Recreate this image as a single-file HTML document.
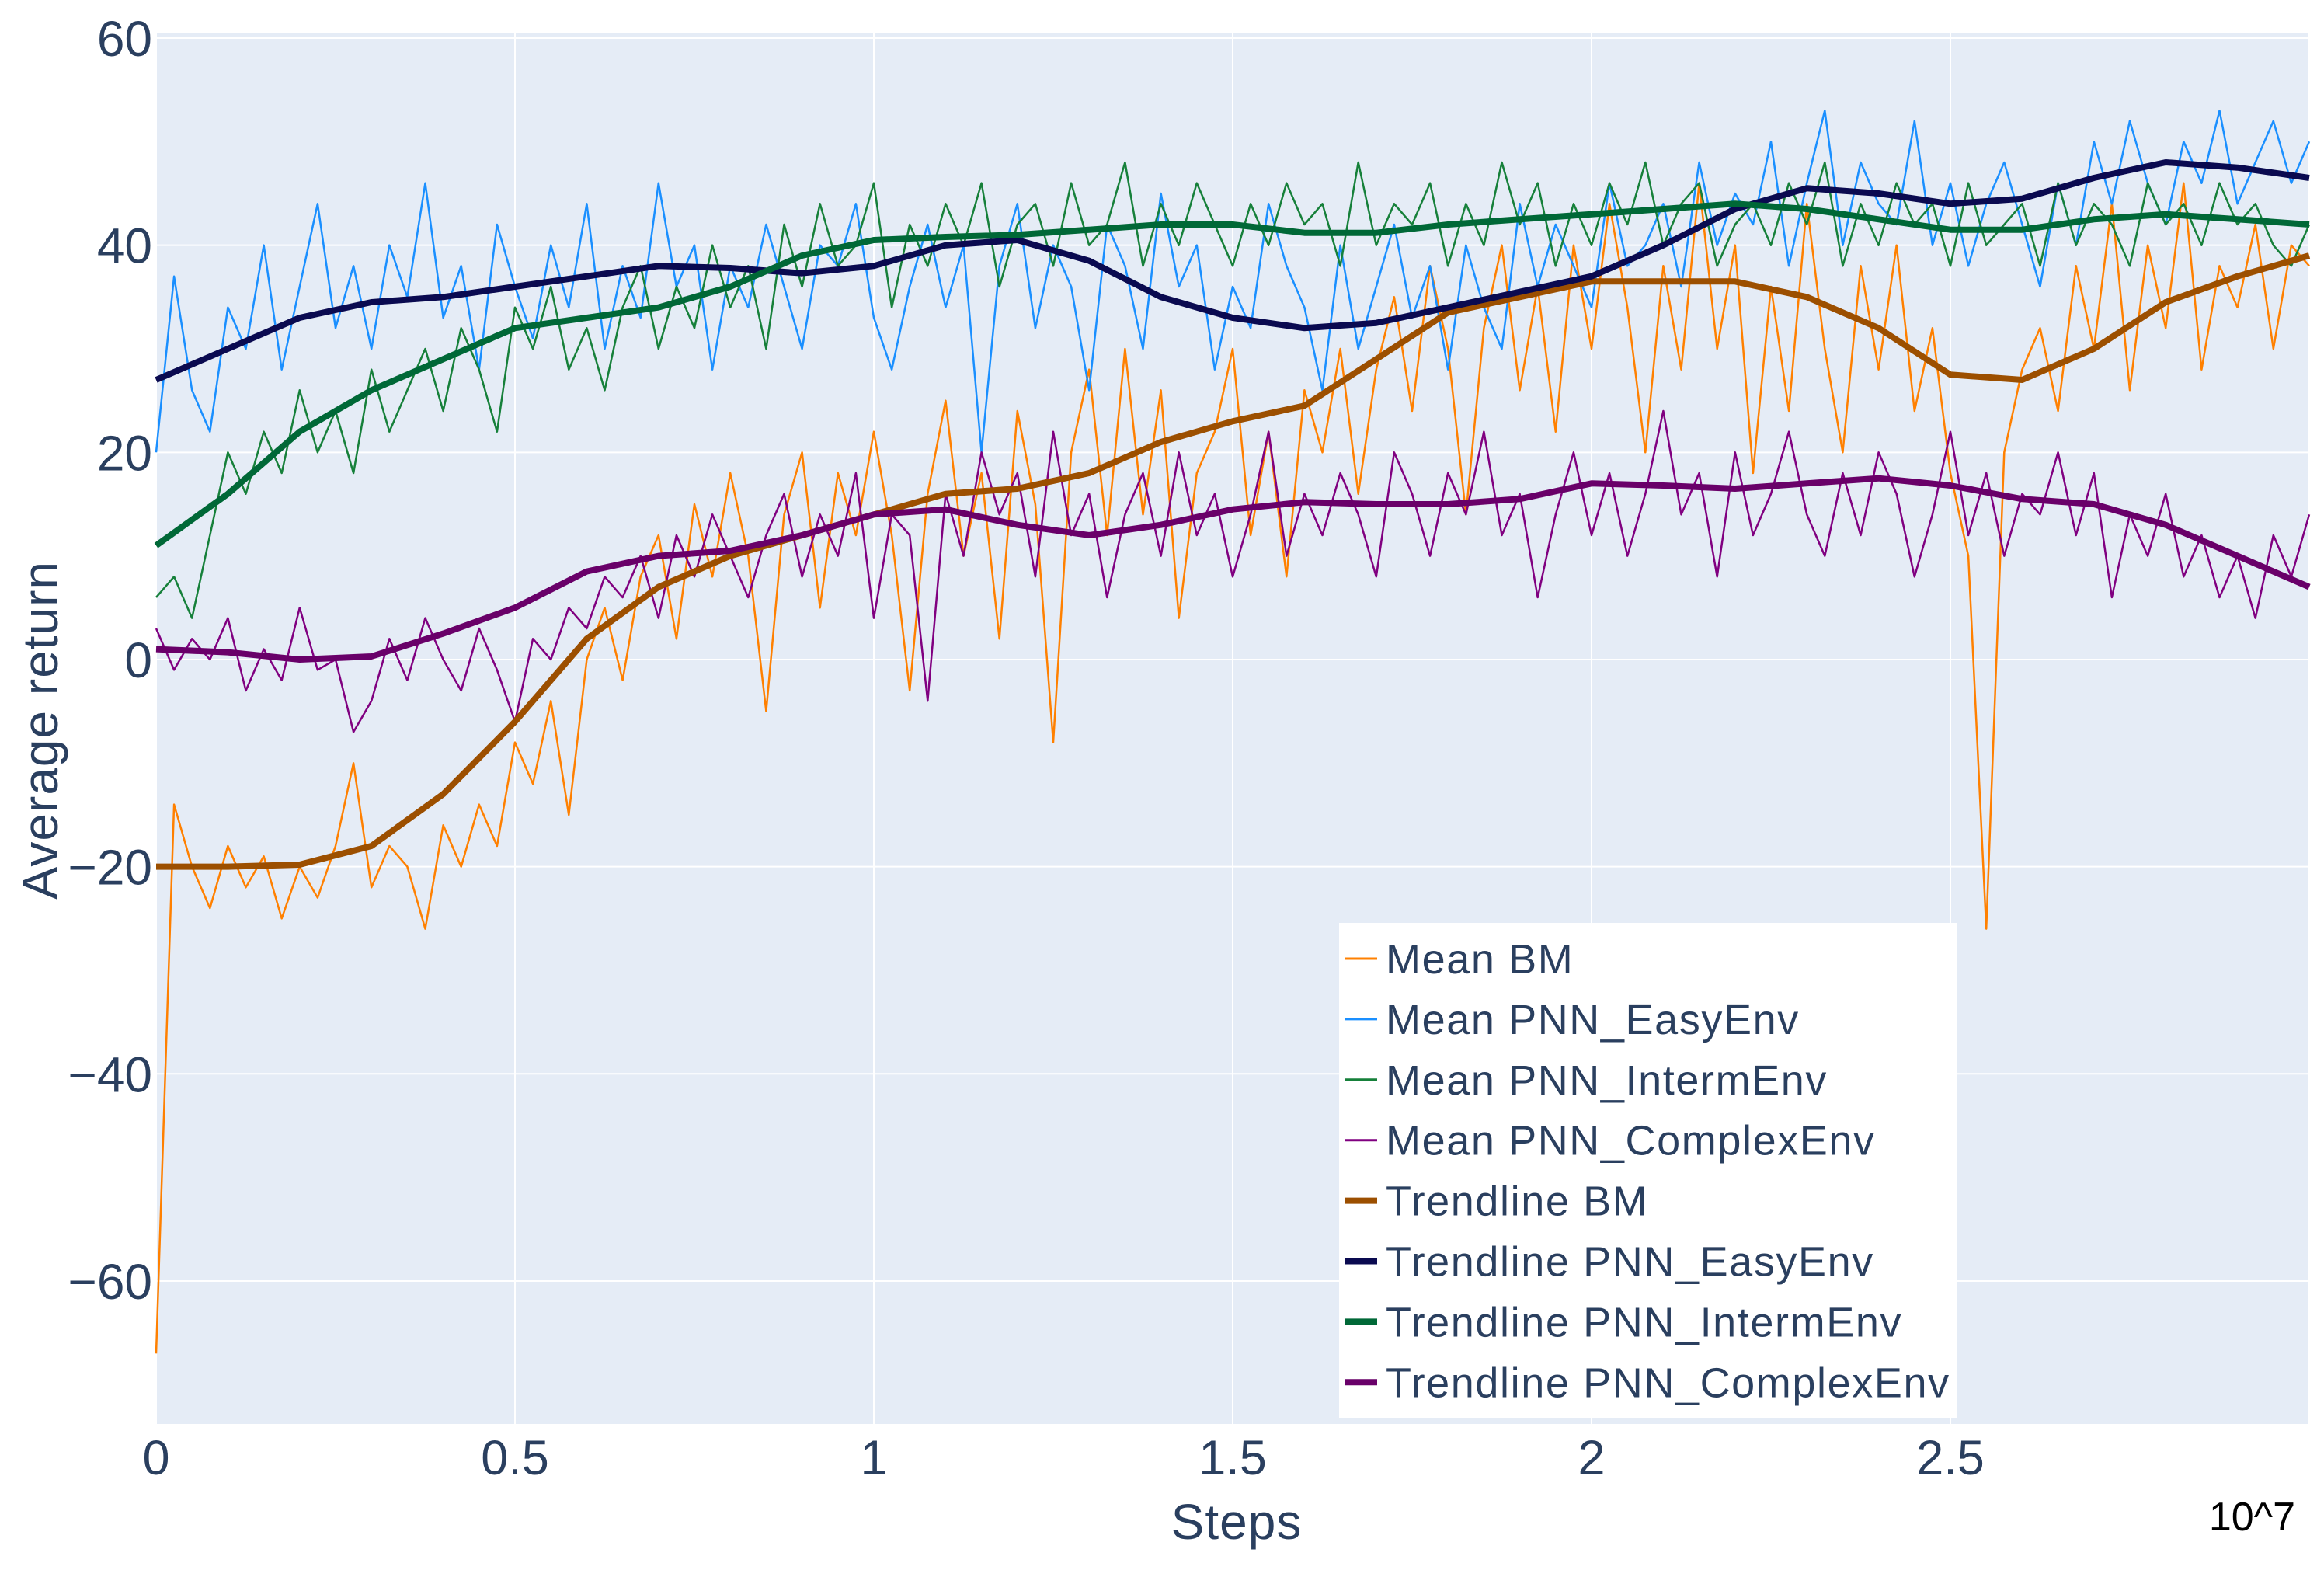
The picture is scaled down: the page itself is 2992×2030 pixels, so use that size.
<!DOCTYPE html>
<html><head><meta charset="utf-8">
<style>
html,body{margin:0;padding:0;background:#fff;}
svg{display:block;font-family:"Liberation Sans",sans-serif;}
</style></head>
<body>
<svg id="chart" width="2992" height="2030" viewBox="0 0 2992 2030" xmlns="http://www.w3.org/2000/svg">
  <rect x="201" y="42" width="2770" height="1791" fill="#e5ecf6"/>
  <g id="grid"></g>
  <g id="series"></g>
  <g id="ticks"></g>
  <text x="1592" y="1981" font-size="64" fill="#2a3f5f" text-anchor="middle" letter-spacing="1">Steps</text>
  <text x="2955" y="1970" font-size="52" fill="#000" text-anchor="end">10^7</text>
  <text transform="translate(74,940) rotate(-90)" font-size="64" fill="#2a3f5f" text-anchor="middle" letter-spacing="1">Average return</text>
  <g id="legend">
    <rect x="1724" y="1188" width="795" height="637" fill="#fff"/>
  </g>
</svg>
<script>
const meanBM = [-67,-14,-20,-24,-18,-22,-19,-25,-20,-23,
 -18,-10,-22,-18,-20,-26,-16,-20,-14,-18,
 -8,-12,-4,-15,0,5,-2,8,12,2,
 15,8,18,10,-5,14,20,5,18,12,
 22,12,-3,16,25,10,18,2,24,15,
 -8,20,28,12,30,14,26,4,18,22,
 30,12,22,8,26,20,30,16,28,35,
 24,38,30,14,32,40,26,36,22,40,
 30,44,34,20,38,28,46,30,40,18,
 36,24,44,30,20,38,28,40,24,32,
 18,10,-26,20,28,32,24,38,30,44,
 26,40,32,46,28,38,34,42,30,40,
 38];
const meanEasy = [20,37,26,22,34,30,40,28,36,44,32,38,30,40,35,46,33,38,28,42,36,31,40,34,44,30,38,33,46,36,40,28,38,34,42,36,30,40,38,44,33,28,36,42,34,40,20,38,44,32,40,36,26,42,38,30,45,36,40,28,36,32,44,38,34,26,40,30,36,42,33,38,28,40,34,30,44,36,42,38,34,46,38,40,44,36,48,40,45,42,50,38,46,53,40,48,44,42,52,40,46,38,44,48,42,36,46,40,50,44,52,46,42,50,46,53,44,48,52,46,50];
const meanInterm = [6,8,4,12,20,16,22,18,26,20,24,18,28,22,26,30,24,32,28,22,34,30,36,28,32,26,34,38,30,36,32,40,34,38,30,42,36,44,38,40,46,34,42,38,44,40,46,36,42,44,38,46,40,42,48,38,44,40,46,42,38,44,40,46,42,44,38,48,40,44,42,46,38,44,40,48,42,46,38,44,40,46,42,48,40,44,46,38,42,44,40,46,42,48,38,44,40,46,42,44,38,46,40,42,44,38,46,40,44,42,38,46,42,44,40,46,42,44,40,38,42];
const meanComplex = [3,-1,2,0,4,-3,1,-2,5,-1,0,-7,-4,2,-2,4,0,-3,3,-1,-6,2,0,5,3,8,6,10,4,12,8,14,10,6,12,16,8,14,10,18,4,14,12,-4,16,10,20,14,18,8,22,12,16,6,14,18,10,20,12,16,8,14,22,10,16,12,18,14,8,20,16,10,18,14,22,12,16,6,14,20,12,18,10,16,24,14,18,8,20,12,16,22,14,10,18,12,20,16,8,14,22,12,18,10,16,14,20,12,18,6,14,10,16,8,12,6,10,4,12,8,14];
const stepsStart = 0, stepsEnd = 3.0;
const trendX = [0,0.1,0.2,0.3,0.4,0.5,0.6,0.7,0.8,0.9,1.0,1.1,1.2,1.3,1.4,1.5,1.6,1.7,1.8,1.9,2.0,2.1,2.2,2.3,2.4,2.5,2.6,2.7,2.8,2.9,3.0];
const trendBM = [-20,-20,-19.8,-18,-13,-6,2,7,10,12,14,16,16.5,18,21,23,24.5,29,33.5,35,36.5,36.5,36.5,35,32,27.5,27,30,34.5,37,39];
const trendEasy = [27,30,33,34.5,35,36,37,38,37.8,37.3,38,40,40.5,38.5,35,33,32,32.5,34,35.5,37,40,43.5,45.5,45,44,44.5,46.5,48,47.5,46.5];
const trendInterm = [11,16,22,26,29,32,33,34,36,39,40.5,40.8,41,41.5,42,42,41.2,41.2,42,42.5,43,43.5,44,43.5,42.5,41.5,41.5,42.5,43,42.5,42];
const trendComplex = [1,0.7,0,0.3,2.5,5,8.5,10,10.5,12,14,14.5,13,12,13,14.5,15.2,15,15,15.5,17,16.8,16.5,17,17.5,16.8,15.5,15,13,10,7];
const xTicks = [0,0.5,1,1.5,2,2.5];
const xTickLabels = ["0","0.5","1","1.5","2","2.5"];
const yTicks = [-60,-40,-20,0,20,40,60];
const yTickLabels = ["\u221260","\u221240","\u221220","0","20","40","60"];
const legendLabels = ["Mean BM","Mean PNN_EasyEnv","Mean PNN_IntermEnv","Mean PNN_ComplexEnv","Trendline BM","Trendline PNN_EasyEnv","Trendline PNN_IntermEnv","Trendline PNN_ComplexEnv"];

const NS = "http://www.w3.org/2000/svg";
const X0 = 201, XPX = 924, Y60 = 49, YPX = 13.333;
function xs(v){ return X0 + v*XPX; }
function ys(v){ return Y60 + (60 - v)*YPX; }
function mk(tag, attrs, parent){
  const e = document.createElementNS(NS, tag);
  for (const k in attrs) e.setAttribute(k, attrs[k]);
  parent.appendChild(e);
  return e;
}
function evenX(arr){ return arr.map((_,i)=>stepsStart + (stepsEnd-stepsStart)*i/(arr.length-1)); }
const grid = document.getElementById('grid');
const ticks = document.getElementById('ticks');
xTicks.forEach((t,i)=>{
  const l = mk('line',{x1:xs(t),x2:xs(t),y1:42,y2:1833,stroke:'#fff','stroke-width':2},grid);
  
  
  const tx = mk('text',{x:xs(t),y:1898,'font-size':63,fill:'#2a3f5f','text-anchor':'middle'},ticks);
  tx.textContent = xTickLabels[i];
  
  
});
yTicks.forEach((t,i)=>{
  const l = mk('line',{x1:201,x2:2971,y1:ys(t),y2:ys(t),stroke:'#fff','stroke-width':2},grid);
  
  
  const tx = mk('text',{x:196,y:ys(t)+23,'font-size':64,fill:'#2a3f5f','text-anchor':'end'},ticks);
  tx.textContent = yTickLabels[i];
  
  
});
const series = document.getElementById('series');
const defs = [
  [evenX(meanBM), meanBM, '#ff8000', 2.5, 'mean-bm-line'],
  [evenX(meanEasy), meanEasy, '#1a8fff', 2.5, 'mean-easy-line'],
  [evenX(meanInterm), meanInterm, '#16803a', 2.5, 'mean-interm-line'],
  [evenX(meanComplex), meanComplex, '#800080', 2.5, 'mean-complex-line'],
  [trendX, trendBM, '#9c4f00', 8, 'trend-bm-line'],
  [trendX, trendEasy, '#0a0a50', 8, 'trend-easy-line'],
  [trendX, trendInterm, '#006837', 8, 'trend-interm-line'],
  [trendX, trendComplex, '#690069', 8, 'trend-complex-line']
];
defs.forEach(d=>{
  const pts = d[0].map((x,i)=>xs(x).toFixed(1)+','+ys(d[1][i]).toFixed(1)).join(' ');
  const p = mk('polyline',{points:pts,fill:'none',stroke:d[2],'stroke-width':d[3],'stroke-linejoin':'round'},series);
  
  
});
const legend = document.getElementById('legend');
legendLabels.forEach((lab,i)=>{
  const y = 1234 + i*77.9;
  const g = mk('g',{},legend);
  
  
  mk('line',{x1:1731,x2:1773,y1:y,y2:y,stroke:defs[i][2],'stroke-width':i<4?3:8},g);
  const t = mk('text',{x:1784,y:y+19,'font-size':54,fill:'#2a3f5f','letter-spacing':1.6},g);
  t.textContent = lab;
});
</script>
</body></html>
